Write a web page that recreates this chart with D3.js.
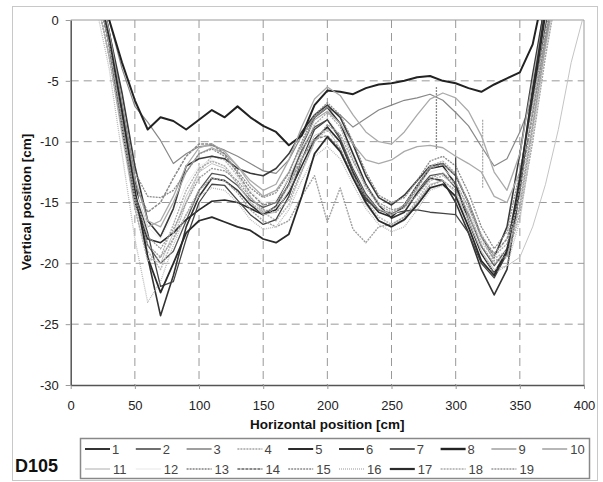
<!DOCTYPE html>
<html>
<head>
<meta charset="utf-8">
<script src="https://cdn.jsdelivr.net/npm/d3@7"></script>
<style>
  body { margin: 0; background: #fff; font-family: "Liberation Sans", Arial, sans-serif; }
</style>
</head>
<body>
<div id="chart"></div>
<script>
// horizontal positions [cm] shared by every profile
const xPositions = [20, 30, 40, 50, 60, 70, 80, 90, 100, 110, 120, 130, 140, 150, 160, 170, 180, 190, 200,
  210, 220, 230, 240, 250, 260, 270, 280, 290, 300, 310, 320, 330, 340, 350, 360, 370, 380, 390, 400];

// vertical positions [cm], one array per profile (values above 0 are cut by the plot)
const profile1 = [4, -1, -7, -13, -19.5, -24.3, -21, -17, -14.5, -13, -13.2, -14, -15.2, -16, -15.3, -13.5, -10.5, -8, -7.2,
  -8.5, -11, -13.5, -15.2, -16.3, -15.8, -14.2, -13, -13.2, -15, -17.5, -20.5, -22.6, -20.5, -14, -6, 2, 6, 8, 10];
const profile2 = [3, -2, -8, -14.5, -18.5, -20, -19, -16.5, -14, -12.6, -12.8, -13.6, -14.8, -15.4, -15, -13, -10.8, -8.8, -8.2,
  -9.6, -12.2, -14.3, -15.6, -16, -15.4, -14, -12.8, -12.6, -13.8, -16, -18.6, -20.2, -18.8, -13.5, -7, -0.5, 5, 8, 10];
const profile3 = [5, 0, -4, -7.1, -8.4, -9.9, -11.8, -11, -10.4, -10.3, -10.7, -11.2, -11.8, -12.4, -12.6, -11.5, -9.5, -8, -7.2,
  -7.8, -8.8, -8.1, -7.4, -7, -6.6, -6.4, -6.1, -6.6, -7.6, -8.7, -10.4, -12, -11.4, -9.2, -6.5, -1.5, 3, 6, 9];
const profile4 = [2, -3, -9, -15, -19, -20.5, -18, -15, -12.5, -11.2, -11.5, -12.8, -14.5, -15.8, -16.5, -15.2, -12.5, -10, -9,
  -10, -12.5, -14.8, -16.2, -16.8, -16.2, -14.8, -13.2, -12.8, -13.6, -15.8, -18.2, -19.6, -19, -15.5, -9, -2, 4, 8, 10];
const profile5 = [3, -2, -9, -15, -18, -18.3, -17.5, -16.4, -15.6, -14.9, -14.8, -15, -15.5, -16, -15.6, -14.2, -12, -9.8, -8.8,
  -10, -12.5, -14.6, -15.8, -16.2, -15.2, -13.6, -12.2, -12, -13.5, -16.5, -19.2, -20.8, -19, -13.8, -6.5, 0.5, 5, 8, 10];
const profile6 = [4, -1, -6, -12, -16.5, -17.8, -15.5, -12, -11.4, -11.2, -11.4, -12.2, -12.6, -12.8, -12.2, -11, -9.2, -7.8, -7,
  -8, -10.2, -12.8, -14.6, -15.2, -14.4, -13.2, -12, -11.8, -12.8, -15, -17.8, -19.5, -17, -11, -4.5, 1.5, 5, 8, 10];
const profile7 = [3, -2, -8.5, -14, -17.5, -21.9, -21.5, -18, -15, -13.5, -13.6, -14.8, -16, -16.8, -16.4, -14.5, -11.5, -9, -8.2,
  -9.8, -12.6, -14.8, -15.6, -15.9, -15.7, -15.6, -15.8, -15.9, -16, -17.5, -20, -21.2, -19.2, -13, -5.5, 1, 5, 8, 10];
const profile8 = [5, 0, -3.5, -6.6, -9, -8, -8.3, -9, -8.2, -7.4, -8, -7.1, -8, -8.7, -9.2, -10.3, -9.5, -7, -5.8,
  -5.9, -6.1, -5.6, -5.3, -5.2, -5, -4.7, -4.6, -5, -5.2, -5.6, -5.9, -5.3, -4.8, -4.3, -2, 3, 6, 8, 10];
const profile9 = [4, -1, -7, -13, -16.5, -17, -15, -12.5, -11, -10.5, -11, -12, -13.2, -14, -13.5, -11.5, -8.8, -6.5, -5.5,
  -6.2, -7.8, -9.2, -10, -10.2, -9.2, -7.8, -6.5, -6, -6.4, -7.5, -9.5, -12.5, -14, -11, -5, 1, 5, 8, 10];
const profile10 = [3, -2, -8, -14, -17, -16.5, -14.5, -12, -10.5, -10.2, -10.8, -12, -13.5, -14.5, -14, -12.5, -10.2, -8.2, -7.5,
  -8.5, -10.2, -11.5, -11.8, -11.5, -10.8, -10.4, -10.3, -10.5, -11.2, -11.8, -12.5, -14.5, -15, -12.5, -7.5, -1.5, 4, 8, 10];
const profile11 = [2, -3, -9.5, -15.5, -19.5, -20, -17.5, -14.5, -12.5, -11.8, -12.2, -13.5, -15, -16, -15.8, -14, -11.5, -9.5, -9,
  -10.5, -13, -15.2, -16.5, -17, -16.5, -15, -13.5, -13.2, -14.2, -16.5, -19, -20.5, -20.2, -19.5, -17, -13.5, -9, -3.5, 0.5];
const profile12 = [3, -2, -8, -14, -17, -18, -16, -13.5, -12, -11.5, -12, -13, -14, -15, -14.8, -13, -10.5, -8.5, -8,
  -9.5, -12, -14, -15.5, -16, -15.5, -14, -12.5, -12.2, -13.2, -15.5, -18, -19.5, -18, -13, -7, -1, 4, 8, 10];
const profile13 = [2, -3, -9, -15, -18.5, -19.5, -18, -16, -14, -13, -13.2, -14.2, -15.6, -16.5, -17, -16.5, -14.5, -12.8, -16.6,
  -13.8, -17.2, -18.3, -17, -16.8, -16.2, -15, -13.6, -13.2, -14, -16, -18.5, -20, -19.5, -16, -10, -3, 3, 7, 10];
const profile14 = [3, -2, -8, -13.5, -15.8, -15, -13, -11.2, -10.2, -10.2, -11, -12.6, -14.2, -15.2, -15, -13.6, -11.4, -9.8, -9.5,
  -10.6, -12.8, -14.5, -15.6, -16, -15.2, -13.8, -12.2, -11.8, -12.8, -15, -17.8, -19.2, -18, -13.8, -7.8, -1.5, 4, 8, 10];
const profile15 = [3, -2, -7.5, -12.5, -14.5, -14.6, -14, -12.5, -11, -10.6, -11.2, -12.4, -13.8, -14.6, -14.2, -12.6, -10, -7.8, -6.8,
  -7.8, -10, -12.5, -14.4, -15, -14.6, -13.2, -11.6, -11.2, -12, -14.2, -17, -18.8, -17.4, -12.5, -6.8, -1, 4, 8, 10];
const profile16 = [1, -4, -11, -18, -23.2, -21.5, -18.5, -16, -14.5, -13.8, -14, -15, -16.4, -17.2, -17, -15.6, -13.2, -11.2, -10.4,
  -11.4, -13.5, -15.5, -16.8, -17.4, -17, -15.6, -14, -13.6, -14.4, -16.4, -19, -20.8, -20.2, -16.5, -9.5, -2.5, 3, 7, 10];
const profile17 = [3, -1.5, -7.5, -14, -19.5, -22.4, -20, -17.5, -16.5, -16.2, -16.6, -17, -17.3, -18, -18.3, -17.6, -14.5, -11, -9.6,
  -10.8, -13, -15, -16.5, -17, -16.4, -15.2, -13.8, -13.5, -14.5, -17, -19.8, -21, -19, -13, -6, 1, 5, 8, 10];
const profile18 = [2, -3, -9, -15.5, -19.8, -19.5, -16.8, -14, -12.2, -11.6, -12, -13.4, -15, -15.8, -15.4, -13.6, -11, -8.6, -7.6,
  -8.8, -11.4, -13.8, -15.2, -15.8, -15.2, -13.6, -12, -11.6, -12.6, -15, -17.6, -19.4, -18.4, -14.5, -8.5, -2, 3.5, 7, 10];
const profile19 = [3, -2, -8.5, -14.5, -17.8, -18.8, -17.2, -15, -13, -12.2, -12.4, -13.2, -14.6, -15.6, -15.8, -14.8, -12.4, -10, -8.6,
  -9.4, -11.6, -13.6, -15, -15.6, -15.4, -14.4, -13, -12.6, -13.4, -15.4, -17.8, -19.8, -19.4, -15.2, -8.8, -2, 4, 8, 10];

const seriesNames = ["1", "2", "3", "4", "5", "6", "7", "8", "9", "10",
  "11", "12", "13", "14", "15", "16", "17", "18", "19"];
const seriesValues = [profile1, profile2, profile3, profile4, profile5, profile6, profile7, profile8, profile9, profile10,
  profile11, profile12, profile13, profile14, profile15, profile16, profile17, profile18, profile19];

// short vertical jumps in some profiles: [series index, x, y from, y to]
const spikes = [
  [14, 285, -5.5, -10.7],
  [6, 300, -11.3, -16],
  [17, 321, -8.2, -13.8],
];

const xTicks = [0, 50, 100, 150, 200, 250, 300, 350, 400];
const yTicks = [0, -5, -10, -15, -20, -25, -30];

// line look per series (grey levels of the original print)
const lineStyles = [
  { color: "#333", width: 1.6 },
  { color: "#555", width: 1.3 },
  { color: "#888", width: 1.2 },
  { color: "#bbb", width: 1.6, dash: "2,1" },
  { color: "#2a2a2a", width: 1.6 },
  { color: "#3a3a3a", width: 1.6 },
  { color: "#444", width: 1.3 },
  { color: "#222", width: 2 },
  { color: "#aaa", width: 1.3 },
  { color: "#aaa", width: 1.3 },
  { color: "#c4c4c4", width: 1 },
  { color: "#eee", width: 1 },
  { color: "#a0a0a0", width: 1.4, dash: "2,1" },
  { color: "#8a8a8a", width: 1.5, dash: "3,1" },
  { color: "#8a8a8a", width: 1.3, dash: "2,1" },
  { color: "#bbb", width: 1.3, dash: "1,1" },
  { color: "#2a2a2a", width: 1.8 },
  { color: "#aaa", width: 1.3, dash: "2,1" },
  { color: "#999", width: 1.3, dash: "2,1" },
];

const width = 603,
  height = 482;
const plot = { left: 70.7, right: 584, top: 20, bottom: 385 };

const svg = d3
  .select("#chart")
  .append("svg")
  .attr("width", width)
  .attr("height", height);

// outer frame of the chart
svg
  .append("rect")
  .attr("x", 12.5)
  .attr("y", 6.5)
  .attr("width", 585)
  .attr("height", 474)
  .attr("fill", "none")
  .attr("stroke", "#c8c8c8");

const x = d3.scaleLinear().domain([0, 400]).range([plot.left, plot.right]);
const y = d3.scaleLinear().domain([-30, 0]).range([plot.bottom, plot.top]);

// dashed grid
svg
  .append("g")
  .selectAll("line")
  .data(xTicks.slice(1, -1))
  .enter()
  .append("line")
  .attr("x1", (d) => x(d))
  .attr("x2", (d) => x(d))
  .attr("y1", plot.top)
  .attr("y2", plot.bottom)
  .attr("stroke", "#999")
  .attr("stroke-dasharray", "8,5");

svg
  .append("g")
  .selectAll("line")
  .data(yTicks.slice(1, -1))
  .enter()
  .append("line")
  .attr("x1", plot.left)
  .attr("x2", plot.right)
  .attr("y1", (d) => y(d))
  .attr("y2", (d) => y(d))
  .attr("stroke", "#999")
  .attr("stroke-dasharray", "8,5");

// top and right edges of the plot area
svg
  .append("path")
  .attr("d", `M${plot.left},${plot.top}H${plot.right}V${plot.bottom}`)
  .attr("fill", "none")
  .attr("stroke", "#999");

svg
  .append("clipPath")
  .attr("id", "plot-clip")
  .append("rect")
  .attr("x", plot.left)
  .attr("y", plot.top)
  .attr("width", plot.right - plot.left)
  .attr("height", plot.bottom - plot.top);

const line = d3
  .line()
  .x((d) => x(d[0]))
  .y((d) => y(d[1]));

const lines = svg.append("g").attr("clip-path", "url(#plot-clip)");

lines
  .selectAll("path")
  .data(seriesValues)
  .enter()
  .append("path")
  .attr("d", (values) => line(values.map((v, i) => [xPositions[i], v])))
  .attr("fill", "none")
  .attr("stroke", (d, i) => lineStyles[i].color)
  .attr("stroke-width", (d, i) => lineStyles[i].width)
  .attr("stroke-dasharray", (d, i) => lineStyles[i].dash || null)
  .attr("stroke-linejoin", "round");

lines
  .selectAll("line.spike")
  .data(spikes)
  .enter()
  .append("line")
  .attr("class", "spike")
  .attr("x1", (d) => x(d[1]))
  .attr("x2", (d) => x(d[1]))
  .attr("y1", (d) => y(d[2]))
  .attr("y2", (d) => y(d[3]))
  .attr("stroke", (d) => lineStyles[d[0]].color)
  .attr("stroke-width", (d) => lineStyles[d[0]].width)
  .attr("stroke-dasharray", (d) => lineStyles[d[0]].dash || null);

// axes (plain hyphen for negatives, like the original)
const xAxis = svg
  .append("g")
  .attr("transform", `translate(0,${plot.bottom})`)
  .call(
    d3.axisBottom(x).tickValues(xTicks).tickFormat((d) => String(d))
      .tickSize(4).tickSizeOuter(0).tickPadding(12)
  );

const yAxis = svg
  .append("g")
  .attr("transform", `translate(${plot.left},0)`)
  .call(
    d3.axisLeft(y).tickValues(yTicks).tickFormat((d) => String(d))
      .tickSize(5).tickSizeOuter(0).tickPadding(7)
  );

[xAxis, yAxis].forEach((axis) => {
  axis.select(".domain").attr("stroke", "#555").attr("stroke-width", 1.5);
  axis.selectAll(".tick line").attr("stroke", "#999");
  axis
    .selectAll(".tick text")
    .attr("font-family", '"Liberation Sans", Arial, sans-serif')
    .attr("font-size", 13)
    .attr("fill", "#222");
});

svg
  .append("text")
  .attr("x", (plot.left + plot.right) / 2)
  .attr("y", 429)
  .attr("text-anchor", "middle")
  .attr("font-size", 13.5)
  .attr("font-weight", "bold")
  .attr("fill", "#111")
  .text("Horizontal position [cm]");

svg
  .append("text")
  .attr("transform", "translate(31,202) rotate(-90)")
  .attr("text-anchor", "middle")
  .attr("font-size", 13.5)
  .attr("font-weight", "bold")
  .attr("fill", "#111")
  .text("Vertical position [cm]");

svg
  .append("text")
  .attr("x", 15)
  .attr("y", 472)
  .attr("font-size", 18)
  .attr("font-weight", "bold")
  .attr("fill", "#111")
  .text("D105");

// legend, two rows of ten
const legend = svg.append("g");

legend
  .append("rect")
  .attr("x", 80.5)
  .attr("y", 438.5)
  .attr("width", 509)
  .attr("height", 40)
  .attr("fill", "none")
  .attr("stroke", "#888")
  .attr("stroke-width", 1.5);

const entries = legend
  .selectAll("g.entry")
  .data(seriesNames)
  .enter()
  .append("g")
  .attr("class", "entry")
  .attr("transform", (d, i) => `translate(${85 + (i % 10) * 50.8},${i < 10 ? 449 : 469})`);

entries
  .append("line")
  .attr("x1", 0)
  .attr("x2", 25)
  .attr("stroke", (d, i) => lineStyles[i].color)
  .attr("stroke-width", (d, i) => lineStyles[i].width + 0.4)
  .attr("stroke-dasharray", (d, i) => lineStyles[i].dash || null);

entries
  .append("text")
  .attr("x", (d) => (d.length > 1 ? 28 : 27))
  .attr("y", 5)
  .attr("font-size", 13)
  .attr("fill", "#444")
  .text((d) => d);
</script>
</body>
</html>
